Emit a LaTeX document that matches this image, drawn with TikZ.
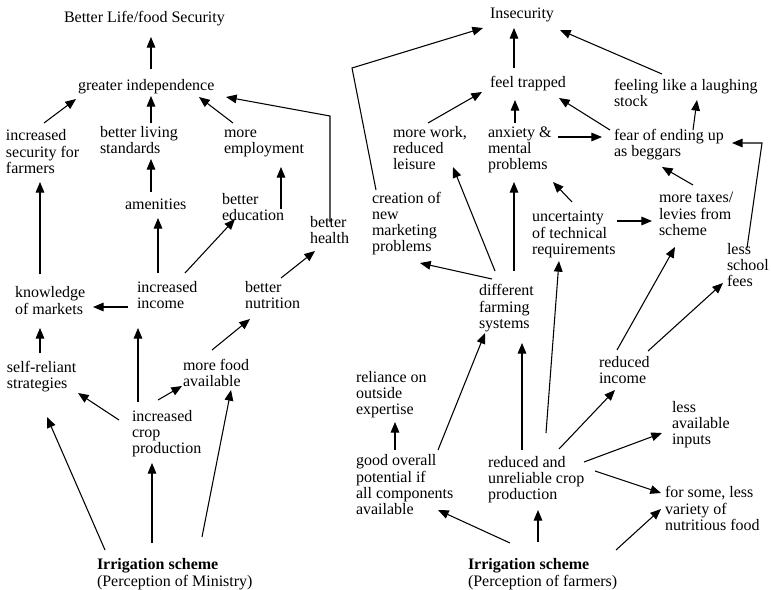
\documentclass[tikz,border=0pt]{standalone}
\usepackage{fontspec}
\setmainfont{Liberation Serif}
\usetikzlibrary{arrows.meta}
\tikzset{
  lbl/.style={anchor=north west, inner sep=0pt, outer sep=0pt, align=left, font=\fontsize{12}{12}\selectfont},
  arr/.style={-{Triangle[length=8pt,width=6.5pt]}, line width=0.8pt}
}
\begin{document}
\begin{tikzpicture}[x=0.75pt,y=-0.75pt]
\useasboundingbox (0,0) rectangle (771,589);
% ---------- left: Ministry ----------
\node[lbl] (goal)   at (64,11)  {\strut Better Life/food Security};
\node[lbl] (indep)  at (78,79)  {\strut greater independence};
\node[lbl] (secur)  at (6,129)  {\strut increased\\security for\\farmers};
\node[lbl] (living) at (100,126) {\strut better living\\standards};
\node[lbl] (employ) at (224,126) {\strut more\\employment};
\node[lbl] (amen)   at (125,198) {\strut amenities};
\node[lbl] (educ)   at (222,193) {\strut better\\education};
\node[lbl] (health) at (310,216) {\strut better\\health};
\node[lbl] (know)   at (15,286) {\strut knowledge\\of markets};
\node[lbl] (income) at (137,281) {\strut increased\\income};
\node[lbl] (nutri)  at (245,281) {\strut better\\nutrition};
\node[lbl] (self)   at (7,361) {\strut self-reliant\\strategies};
\node[lbl] (food)   at (183,359) {\strut more food\\available};
\node[lbl] (crop)   at (132,410) {\strut increased\\crop\\production};
\node[lbl] (irrL)   at (97,558) {\strut\textbf{Irrigation scheme}\\(Perception of Ministry)};
% ---------- right: farmers ----------
\node[lbl] (insec)   at (490,7)   {\strut Insecurity};
\node[lbl] (trapped) at (490,76)  {\strut feel trapped};
\node[lbl] (laugh)   at (614,79)  {\strut feeling like a laughing\\stock};
\node[lbl] (work)    at (393,126) {\strut more work,\\reduced\\leisure};
\node[lbl] (anx)     at (488,126) {\strut anxiety \&\\mental\\problems};
\node[lbl] (fear)    at (614,129) {\strut fear of ending up\\as beggars};
\node[lbl] (creat)   at (372,192) {\strut creation of\\new\\marketing\\problems};
\node[lbl] (uncert)  at (532,210) {\strut uncertainty\\of technical\\requirements};
\node[lbl] (taxes)   at (659,191) {\strut more taxes/\\levies from\\scheme};
\node[lbl] (school)  at (727,243) {\strut less\\school\\fees};
\node[lbl] (diff)    at (479,284) {\strut different\\farming\\systems};
\node[lbl] (redinc)  at (599,356) {\strut reduced\\income};
\node[lbl] (reli)    at (356,371) {\strut reliance on\\outside\\expertise};
\node[lbl] (inputs)  at (672,401) {\strut less\\available\\inputs};
\node[lbl] (good)    at (356,454) {\strut good overall\\potential if\\all components\\available};
\node[lbl] (redcrop) at (488,456) {\strut reduced and\\unreliable crop\\production};
\node[lbl] (variety) at (665,486) {\strut for some, less\\variety of\\nutritious food};
\node[lbl] (irrR)    at (468,558) {\strut\textbf{Irrigation scheme}\\(Perception of farmers)};
% ---------- left arrows ----------
\draw[arr] ([shift={(73,-10)}]indep.north west) -- ([shift={(87,26)}]goal.north west);
\draw[arr] ([shift={(38,-6)}]secur.north west) -- ([shift={(-2,20)}]indep.north west);
\draw[arr] ([shift={(51,-3)}]living.north west) -- ([shift={(73,17)}]indep.north west);
\draw[arr] ([shift={(9,-3)}]employ.north west) -- ([shift={(121,18)}]indep.north west);
\draw[arr] ([shift={(20,6)}]health.north west) -- ([shift={(20,-100)}]health.north west) -- ([shift={(148,18)}]indep.north west);
\draw[arr] ([shift={(25,-12)}]know.north west) -- ([shift={(34,53)}]secur.north west);
\draw[arr] ([shift={(21,-8)}]income.north west) -- ([shift={(33,20)}]amen.north west);
\draw[arr] ([shift={(26,-6)}]amen.north west) -- ([shift={(51,33)}]living.north west);
\draw[arr] ([shift={(59,16)}]educ.north west) -- ([shift={(57,41)}]employ.north west);
\draw[arr] ([shift={(48,-8)}]income.north west) -- ([shift={(13,26)}]educ.north west);
\draw[arr] ([shift={(36,-3)}]nutri.north west) -- ([shift={(5,35)}]health.north west);
\draw[arr] ([shift={(-9,26)}]income.north west) -- ([shift={(78,21)}]know.north west);
\draw[arr] ([shift={(33,-8)}]self.north west) -- ([shift={(25,42)}]know.north west);
\draw[arr] ([shift={(6,-8)}]crop.north west) -- ([shift={(1,47)}]income.north west);
\draw[arr] ([shift={(29,-9)}]food.north west) -- ([shift={(5,38)}]nutri.north west);
\draw[arr] ([shift={(-13,10)}]crop.north west) -- ([shift={(71,32)}]self.north west);
\draw[arr] ([shift={(26,-10)}]crop.north west) -- ([shift={(-1,27)}]food.north west);
\draw[arr] ([shift={(8,-8)}]irrL.north west) -- ([shift={(40,56)}]self.north west);
\draw[arr] ([shift={(55,-15)}]irrL.north west) -- ([shift={(20,53)}]crop.north west);
\draw[arr] ([shift={(105,-21)}]irrL.north west) -- ([shift={(48,31)}]food.north west);
% ---------- right arrows ----------
\draw[arr] ([shift={(4,-2)}]creat.north west) -- ([shift={(-20,-124)}]creat.north west) -- ([shift={(-7,21)}]insec.north west);
\draw[arr] ([shift={(24,-8)}]trapped.north west) -- ([shift={(24,21)}]insec.north west);
\draw[arr] ([shift={(48,-5)}]laugh.north west) -- ([shift={(70,23)}]insec.north west);
\draw[arr] ([shift={(35,-3)}]work.north west) -- ([shift={(-8,16)}]trapped.north west);
\draw[arr] ([shift={(27,-3)}]anx.north west) -- ([shift={(25,24)}]trapped.north west);
\draw[arr] ([shift={(-4,1)}]fear.north west) -- ([shift={(69,22)}]trapped.north west);
\draw[arr] ([shift={(79,1)}]fear.north west) -- ([shift={(83,21)}]laugh.north west);
\draw[arr] ([shift={(70,11)}]anx.north west) -- ([shift={(-12,8)}]fear.north west);
\draw[arr] ([shift={(20,5)}]school.north west) -- ([shift={(35,-100)}]school.north west) -- ([shift={(118,14)}]fear.north west);
\draw[arr] ([shift={(34,-6)}]taxes.north west) -- ([shift={(48,38)}]fear.north west);
\draw[arr] ([shift={(16,-13)}]diff.north west) -- ([shift={(60,41)}]work.north west);
\draw[arr] ([shift={(35,-13)}]diff.north west) -- ([shift={(26,56)}]anx.north west);
\draw[arr] ([shift={(40,-8)}]uncert.north west) -- ([shift={(65,56)}]anx.north west);
\draw[arr] ([shift={(85,11)}]uncert.north west) -- ([shift={(-7,30)}]taxes.north west);
\draw[arr] ([shift={(13,-5)}]diff.north west) -- ([shift={(48,71)}]creat.north west);
\draw[arr] ([shift={(58,-23)}]redcrop.north west) -- ([shift={(27,51)}]uncert.north west);
\draw[arr] ([shift={(18,-6)}]redinc.north west) -- ([shift={(16,56)}]taxes.north west);
\draw[arr] ([shift={(49,-5)}]redinc.north west) -- ([shift={(-4,40)}]school.north west);
\draw[arr] ([shift={(82,-4)}]good.north west) -- ([shift={(6,49)}]diff.north west);
\draw[arr] ([shift={(34,-6)}]redcrop.north west) -- ([shift={(43,59)}]diff.north west);
\draw[arr] ([shift={(39,-4)}]good.north west) -- ([shift={(39,51)}]reli.north west);
\draw[arr] ([shift={(71,-7)}]redcrop.north west) -- ([shift={(16,34)}]redinc.north west);
\draw[arr] ([shift={(96,6)}]redcrop.north west) -- ([shift={(-10,32)}]inputs.north west);
\draw[arr] ([shift={(107,15)}]redcrop.north west) -- ([shift={(-4,7)}]variety.north west);
\draw[arr] ([shift={(42,-15)}]irrR.north west) -- ([shift={(82,56)}]good.north west);
\draw[arr] ([shift={(70,-16)}]irrR.north west) -- ([shift={(50,54)}]redcrop.north west);
\draw[arr] ([shift={(148,-8)}]irrR.north west) -- ([shift={(-4,23)}]variety.north west);
\end{tikzpicture}
\end{document}
